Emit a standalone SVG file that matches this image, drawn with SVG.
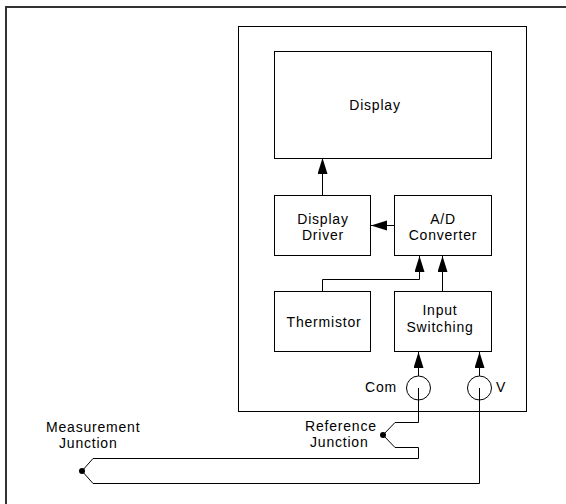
<svg xmlns="http://www.w3.org/2000/svg" width="566" height="504" viewBox="0 0 566 504">
  <style>
    .box { fill: #ffffff; stroke: #000000; stroke-width: 1; }
    .wire { fill: none; stroke: #000000; stroke-width: 1; }
    .lbl { font-family: "Liberation Sans", Arial, sans-serif; font-size: 14px; letter-spacing: 0.8px; fill: #000000; }
    .mid { text-anchor: middle; }
    .dot { fill: #000000; }
  </style>
  <defs>
    <marker id="arrow" markerUnits="userSpaceOnUse" markerWidth="18" markerHeight="12" refX="16" refY="5" orient="auto">
      <path d="M0,0 L16,5 L0,10 Z" fill="#000000"/>
    </marker>
  </defs>

  <rect x="0" y="0" width="566" height="504" fill="#ffffff"/>
  <!-- page frame (only top and left edges fall inside the sheet) -->
  <path d="M6,510 L6,7 L570,7" fill="none" stroke="#333333" stroke-width="2"/>

  <!-- meter enclosure -->
  <g id="meter">
    <rect class="box" x="238.5" y="26.5" width="288" height="385"/>
  </g>

  <g id="display">
    <rect class="box" x="274.5" y="51.5" width="217" height="107"/>
    <text class="lbl mid" x="375" y="110">Display</text>
  </g>

  <g id="display-driver">
    <rect class="box" x="274.5" y="195.5" width="96" height="60"/>
    <text class="lbl mid" x="323" y="224">Display</text>
    <text class="lbl mid" x="323" y="240">Driver</text>
  </g>

  <g id="ad-converter">
    <rect class="box" x="394.5" y="195.5" width="97" height="60"/>
    <text class="lbl mid" x="443" y="224">A/D</text>
    <text class="lbl mid" x="443" y="240">Converter</text>
  </g>

  <g id="thermistor">
    <rect class="box" x="274.5" y="291.5" width="96" height="60"/>
    <text class="lbl mid" x="324" y="327">Thermistor</text>
  </g>

  <g id="input-switching">
    <rect class="box" x="394.5" y="291.5" width="97" height="60"/>
    <text class="lbl mid" x="440" y="315">Input</text>
    <text class="lbl mid" x="440" y="332">Switching</text>
  </g>

  <g id="com-terminal">
    <circle class="wire" cx="418.5" cy="388" r="12"/>
    <text class="lbl" x="397" y="392" text-anchor="end">Com</text>
  </g>

  <g id="v-terminal">
    <circle class="wire" cx="479.5" cy="388" r="12"/>
    <text class="lbl" x="496" y="392">V</text>
  </g>

  <g id="reference-junction">
    <circle class="dot" cx="383" cy="435" r="3"/>
    <text class="lbl" x="305" y="431">Reference</text>
    <text class="lbl" x="310" y="447">Junction</text>
  </g>

  <g id="measurement-junction">
    <circle class="dot" cx="82" cy="471" r="3"/>
    <text class="lbl" x="46" y="432">Measurement</text>
    <text class="lbl" x="59" y="448">Junction</text>
  </g>

  <g id="connectors">
    <!-- internal signal paths -->
    <path class="wire" d="M322.5,195 L322.5,158" marker-end="url(#arrow)"/>
    <path class="wire" d="M394,225.5 L371,225.5" marker-end="url(#arrow)"/>
    <path class="wire" d="M322.5,291 L322.5,279.5 L419.5,279.5 L419.5,256" marker-end="url(#arrow)"/>
    <path class="wire" d="M442.5,291 L442.5,256" marker-end="url(#arrow)"/>
    <path class="wire" d="M418.5,376 L418.5,352" marker-end="url(#arrow)"/>
    <path class="wire" d="M479.5,376 L479.5,352" marker-end="url(#arrow)"/>
    <!-- thermocouple wiring -->
    <path class="wire" d="M418.5,388 L418.5,422.5 L395,422.5 L383,435 L395,447.5 L418.5,447.5 L418.5,458.5 L93,458.5 L82,471 L93,483.5 L479.5,483.5 L479.5,388"/>
  </g>
</svg>
